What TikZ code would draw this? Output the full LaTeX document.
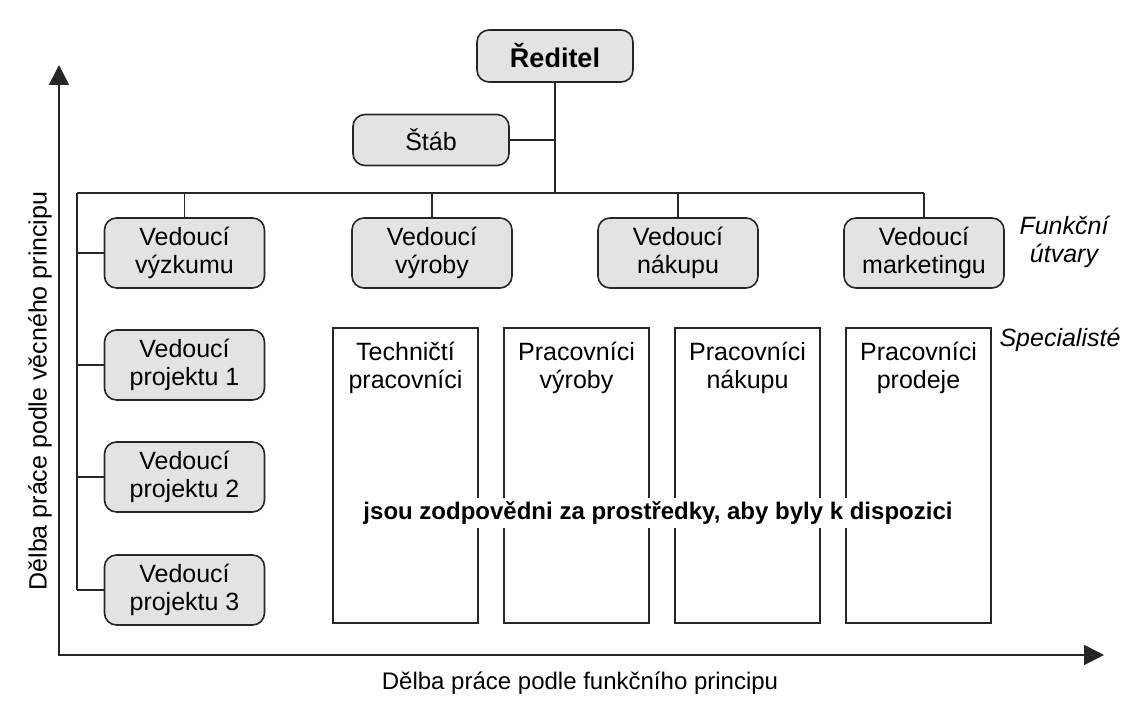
\documentclass[tikz,border=0pt]{standalone}
\usepackage{fontspec}
\setmainfont{Liberation Sans}
\usetikzlibrary{arrows.meta}

\begin{document}
\begin{tikzpicture}[x=0.5pt, y=-0.5pt, font=\fontsize{12.5}{14}\selectfont]
    \tikzstyle{org box} = [rectangle,rounded corners=6pt,draw=black!85,fill=black!11,thick,align=center,minimum width=80pt,minimum height=35pt,inner sep=1pt]
    \tikzstyle{spec box} = [rectangle,draw=black!85,thick,minimum width=72.5pt,minimum height=147.5pt]
    \tikzstyle{spec text} = [anchor=north,align=center,inner sep=0pt,yshift=-7pt]
    \tikzstyle{org edge} = [draw=black!85,semithick]
    \tikzstyle{axis edge} = [draw=black!85,thick,<->,>={Triangle[length=10pt,width=10pt]}]
\useasboundingbox (0,0) rectangle (1123,706);
\node[org box, font=\fontsize{13.5}{15}\selectfont\bfseries, minimum width=78pt, minimum height=26pt] (reditel) at (555, 56) {Ředitel};
\node[org box, minimum width=78pt, minimum height=25.5pt] (stab) at (431, 140) {Štáb};
\node[org box] (vyzkum) at (184.5, 253) {Vedoucí\\výzkumu};
\node[org box] (vyroba) at (432, 253) {Vedoucí\\výroby};
\node[org box] (nakup) at (678, 253) {Vedoucí\\nákupu};
\node[org box] (marketing) at (924, 253) {Vedoucí\\marketingu};
\node[org box] (proj1) at (184.5, 365) {Vedoucí\\projektu 1};
\node[org box] (proj2) at (184.5, 477) {Vedoucí\\projektu 2};
\node[org box] (proj3) at (184.5, 590) {Vedoucí\\projektu 3};
\node[spec box, label={[spec text]north:Techničtí\\pracovníci}] (tech) at (405.5, 475.5) {};
\node[spec box, label={[spec text]north:Pracovníci\\výroby}] (prvyr) at (576.5, 475.5) {};
\node[spec box, label={[spec text]north:Pracovníci\\nákupu}] (prnak) at (747.5, 475.5) {};
\node[spec box, label={[spec text]north:Pracovníci\\prodeje}] (prprod) at (918.5, 475.5) {};
\node[fill=white, inner sep=2pt, font=\fontsize{12}{14}\selectfont\bfseries] (zodp) at (658, 513) {jsou zodpovědni za prostředky, aby byly k dispozici};
\node[align=center, font=\fontsize{12.5}{14}\selectfont\itshape] (funkcni) at (1064, 242) {Funkční\\útvary};
\node[font=\fontsize{12.5}{14}\selectfont\itshape] (special) at (1060, 340) {Specialisté};
\coordinate (barL) at (77, 193);
\coordinate (origin) at (59, 655);
\coordinate (ytip) at (59, 65);
\coordinate (xtip) at (1104, 655);
\node[rotate=90] (ylabel) at (40, 391) {Dělba práce podle věcného principu};
\node[font=\fontsize{12}{14}\selectfont] (xlabel) at (580, 683) {Dělba práce podle funkčního principu};
\draw[org edge] (reditel.south) -- (reditel.south |- barL);
\draw[org edge] (stab.east) -- (stab.east -| reditel.south);
\draw[org edge] (barL) -- (marketing.north |- barL);
\draw[org edge] (vyzkum.north) -- (vyzkum.north |- barL);
\draw[org edge] (vyroba.north) -- (vyroba.north |- barL);
\draw[org edge] (nakup.north) -- (nakup.north |- barL);
\draw[org edge] (marketing.north) -- (marketing.north |- barL);
\draw[org edge] (barL) -- (barL |- proj3.west);
\draw[org edge] (barL |- vyzkum.west) -- (vyzkum.west);
\draw[org edge] (barL |- proj1.west) -- (proj1.west);
\draw[org edge] (barL |- proj2.west) -- (proj2.west);
\draw[org edge] (barL |- proj3.west) -- (proj3.west);
\draw[axis edge] (ytip) -- (origin) -- (xtip);
\end{tikzpicture}
\end{document}
